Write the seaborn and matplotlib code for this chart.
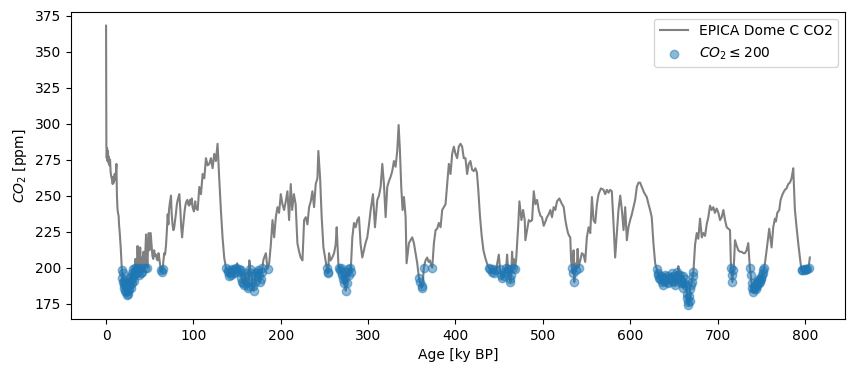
import matplotlib
matplotlib.use("Agg")
import matplotlib.pyplot as plt
import pandas as pd
import seaborn as sns

# EPICA Dome C CO2 record
age_ky = [
    -0.05, 0.3, 0.7, 1.1, 1.6, 2.1, 2.6, 3.2, 3.8, 4.5,
    5.2, 6.0, 6.8, 7.5, 8.2, 9.0, 9.8, 10.5, 11.2, 11.8,
    12.4, 13.0, 13.6, 14.3, 14.9, 15.5, 16.2, 16.8, 17.4, 18.0,
    18.5, 19.0, 19.5, 20.0, 20.5, 21.0, 21.5, 22.0, 22.5, 23.0,
    23.5, 24.0, 24.5, 25.0, 25.5, 26.0, 26.5, 27.0, 27.5, 28.0,
    28.5, 29.0, 29.5, 30.0, 30.5, 31.0, 31.5, 32.0, 32.5, 33.0,
    33.5, 34.0, 34.5, 35.0, 35.5, 36.0, 36.5, 37.0, 37.5, 38.0,
    38.5, 39.0, 39.5, 40.0, 40.5, 41.0, 41.5, 42.0, 42.8, 43.5,
    44.2, 45.0, 45.7, 46.5, 47.3, 48.0, 48.8, 49.5, 50.3, 51.0,
    52, 53, 54, 55, 56, 57, 58, 59, 60, 61,
    62, 63, 64, 64.8, 65.5, 66.5, 67.5, 68.5, 69.5, 70.5,
    71.3, 72, 73, 74.3, 75, 76, 77, 78, 79, 80,
    81, 82, 83.8, 85, 86, 87, 88, 89, 90, 91,
    92, 93, 94, 95, 96, 97, 98, 99, 100.5, 102,
    103, 104.8, 106.7, 108.6, 110.5, 112.4, 114.3, 116.2, 118.1, 120,
    121.9, 123.8, 125.7, 127.6, 129.5, 131.4, 133.3, 135.2, 137.1, 139,
    140, 141, 142, 143, 144, 145, 146, 147, 148, 149,
    150, 151, 152, 153, 154, 155, 156, 157, 158, 159,
    160, 161, 162, 163, 164, 165, 166, 167, 168, 169,
    170, 171, 172, 173, 174, 175, 176, 177, 178, 179,
    180, 181, 182.9, 184.8, 186.7, 188.6, 190.5, 192.4, 194.3, 196.2,
    198, 200, 201.9, 203.8, 205.7, 207.6, 209.5, 211.4, 213, 215,
    217, 219, 221, 222.8, 224.8, 226.7, 228.6, 230.5, 232.4, 234.3,
    236.2, 238.1, 240, 241.9, 243, 245, 246.8, 248.8, 250.7, 252.6,
    253.5, 254.3, 255.2, 257, 259, 261, 262.8, 264, 265.9, 266.7,
    267.5, 268.5, 269.5, 270.5, 271.5, 272.4, 273.3, 274.3, 275.3, 276.2,
    277, 278, 279, 280, 281.9, 283.8, 285.7, 287.6, 289.5, 291.4,
    293.3, 295.2, 297, 299, 301, 302.9, 305.5, 307.8, 310.5, 312.4,
    314.3, 316.2, 318.1, 320, 321.9, 323.8, 325.7, 327.6, 329.5, 331.4,
    333.3, 334.9, 336.4, 337.9, 339.4, 341, 342.9, 344, 346.7, 348.5,
    350.5, 352.4, 354.3, 356.2, 358.1, 359.5, 361.2, 362.2, 363.8, 365.7,
    367.6, 369.2, 370.7, 372.4, 373.4, 375.3, 377.2, 379, 381, 382.9,
    384.8, 386.7, 388.6, 390.5, 392.4, 394.3, 396.2, 398.1, 400, 401.9,
    403.8, 405.7, 407.6, 409.5, 411.4, 413.3, 415.2, 417.1, 419, 420.9,
    422.8, 424.5, 426, 428, 430, 432, 434, 436, 438, 440,
    441.5, 443, 444.5, 446, 447.5, 449.6, 451, 452.5, 453.4, 455,
    456.5, 458, 459.1, 460.2, 461, 462, 462.9, 463.8, 464.8, 465.8,
    466.7, 468, 469.4, 471.7, 473.2, 475.5, 477.4, 479.3, 480, 482,
    483.9, 485.8, 487.7, 489.6, 491.5, 493.4, 495.3, 497.2, 499, 501,
    503, 504.8, 506.7, 508.6, 510.5, 512.4, 514.3, 516.2, 518.9, 520.5,
    522, 523.9, 525.8, 527.3, 528.8, 530.2, 531.4, 532.4, 533.3, 534.3,
    535.2, 536, 537, 538, 539, 539.8, 541, 542.8, 544.7, 546.6,
    548.5, 550.4, 552.4, 554.3, 556.2, 558, 560, 561.9, 563.8, 566.5,
    569.5, 571.4, 573.3, 575.2, 577, 579, 580.9, 582.8, 584.7, 586.6,
    588.6, 590.5, 592.4, 594.3, 596.2, 598, 600, 601.9, 603.8, 605.7,
    607.6, 609.5, 611.4, 613.3, 616, 619, 621, 622.8, 624.7, 626.6,
    628.6, 630.5, 631.5, 632.4, 633.4, 634.3, 635.3, 636.2, 637.1, 638,
    639, 640, 641, 642, 643, 643.8, 644.8, 645.7, 646.7, 647.6,
    648.6, 649.5, 650.5, 651.4, 652.3, 653.3, 654.2, 655.2, 656.1, 657,
    658, 659, 660, 661, 662, 662.9, 663.8, 664.8, 665.4, 666,
    666.7, 667.4, 668, 668.6, 669.5, 670.5, 671.5, 672.4, 674.3, 676.2,
    678, 680, 682, 683.8, 685.7, 687.6, 689.5, 691.4, 693.3, 695.2,
    697, 699, 701, 702.9, 704.8, 706.7, 708.6, 710.5, 712.4, 714.3,
    715.4, 716.2, 717, 718, 719, 720, 722, 723.8, 725.7, 727.6,
    729.5, 731.4, 733.3, 735.2, 737, 738, 739, 739.8, 740.5, 741.2,
    742, 742.7, 743.5, 744.2, 745, 745.7, 746.5, 747.2, 748, 748.8,
    749.5, 750.3, 751, 751.8, 752.5, 753.3, 754.3, 756.2, 759.2, 761.9,
    763.8, 765.7, 766.9, 768.4, 770.7, 772.2, 774.5, 777.1, 779, 781,
    782.9, 784.8, 786.7, 788.6, 790.5, 792.4, 794.3, 796.2, 797.2, 798.5,
    800, 801.5, 803, 804.3, 805.7,
]

co2_ppm = [
    368, 285, 276, 283, 274, 281, 273, 277, 271, 275,
    266, 263, 261, 258, 263, 259, 265, 261, 266, 272,
    250, 241, 238, 236, 229, 225, 219, 213, 206, 198,
    193, 190, 196, 188, 191, 186, 189, 184, 187, 183,
    186, 181, 184, 182, 187, 185, 190, 188, 193, 186,
    191, 194, 189, 196, 193, 199, 191, 195, 200, 197,
    206, 198, 203, 196, 200, 215, 204, 199, 208, 195,
    202, 214, 205, 196, 200, 207, 197, 203, 211, 205,
    200, 212, 223, 210, 200, 215, 224, 212, 218, 224,
    216, 208, 206, 212, 208, 209, 206, 205, 210, 206,
    201, 198, 197, 199, 204, 210, 209, 215, 225, 237,
    230, 240, 245, 250, 238, 230, 226, 228, 233, 238,
    244, 247, 251, 240, 228, 221, 228, 234, 240, 244,
    246, 247, 244, 243, 247, 244, 248, 242, 239, 246,
    241, 240, 256, 251, 265, 262, 276, 271, 272, 276,
    269, 279, 274, 286, 262, 240, 221, 207, 200, 198,
    197, 194, 196, 195, 199, 198, 196, 197, 199, 200,
    203, 201, 199, 197, 198, 193, 190, 189, 188, 194,
    196, 190, 186, 187, 205, 199, 196, 190, 187, 184,
    190, 194, 196, 197, 198, 195, 190, 192, 197, 200,
    205, 207, 210, 199, 203, 216, 233, 221, 235, 242,
    238, 251, 244, 240, 246, 253, 233, 258, 240, 251,
    244, 217, 211, 207, 205, 233, 235, 230, 242, 246,
    253, 242, 258, 262, 281, 262, 235, 214, 207, 200,
    196, 197, 210, 205, 207, 210, 216, 228, 203, 200,
    198, 200, 196, 195, 192, 189, 193, 184, 189, 197,
    199, 195, 200, 197, 221, 231, 228, 233, 235, 216,
    207, 212, 217, 221, 230, 240, 251, 228, 247, 250,
    256, 272, 258, 235, 256, 260, 263, 267, 274, 270,
    281, 299, 281, 256, 240, 249, 235, 203, 217, 219,
    221, 217, 210, 203, 193, 190, 186, 187, 200, 205,
    207, 204, 205, 201, 200, 217, 226, 227, 231, 228,
    240, 242, 244, 258, 272, 265, 279, 284, 279, 276,
    284, 286, 284, 276, 276, 265, 272, 274, 268, 267,
    269, 266, 255, 236, 222, 212, 207, 203, 200, 199,
    197, 199, 196, 198, 202, 209, 199, 195, 193, 194,
    197, 200, 209, 199, 198, 192, 190, 195, 211, 200,
    206, 199, 205, 228, 246, 233, 240, 233, 219, 226,
    233, 232, 233, 253, 244, 247, 240, 236, 235, 229,
    232, 235, 237, 240, 235, 242, 240, 246, 248, 246,
    244, 242, 233, 228, 224, 222, 221, 205, 200, 196,
    212, 190, 203, 198, 201, 213, 200, 205, 210, 209,
    204, 221, 228, 224, 249, 233, 231, 244, 251, 255,
    254, 251, 254, 252, 254, 253, 231, 207, 224, 240,
    250, 240, 226, 242, 219, 228, 233, 237, 242, 247,
    256, 259, 259, 256, 252, 249, 244, 240, 235, 217,
    203, 199, 196, 195, 193, 192, 194, 190, 193, 188,
    191, 195, 193, 194, 189, 190, 192, 192, 193, 196,
    191, 194, 190, 188, 193, 197, 195, 201, 193, 195,
    189, 190, 194, 186, 189, 192, 187, 182, 179, 176,
    174, 180, 177, 185, 188, 190, 194, 197, 216, 224,
    220, 234, 221, 224, 222, 230, 235, 243, 240, 242,
    238, 241, 238, 233, 235, 240, 233, 228, 227, 226,
    200, 195, 190, 198, 205, 219, 215, 212, 211, 211,
    210, 210, 212, 217, 200, 195, 189, 186, 183, 185,
    186, 188, 185, 187, 190, 187, 191, 189, 192, 190,
    193, 192, 195, 196, 198, 200, 203, 212, 227, 214,
    228, 234, 232, 238, 240, 247, 251, 254, 255, 258,
    259, 262, 269, 240, 228, 217, 207, 198, 198, 199,
    198, 199, 199, 200, 207,
]

threshold = 200

df = pd.DataFrame({"age": age_ky, "co2": co2_ppm})
low = df[df["co2"] <= threshold]

fig, ax = plt.subplots(figsize=(8.54, 3.72), dpi=100)
fig.subplots_adjust(left=0.083, right=0.9895, top=0.9685, bottom=0.1425)

sns.lineplot(data=df, x="age", y="co2", color="grey", sort=False,
             estimator=None, ax=ax, label="EPICA Dome C CO2")
# glacial values drawn on top of the record
sns.scatterplot(data=low, x="age", y="co2", color="C0", alpha=0.5, s=36,
                edgecolor="C0", linewidth=1, zorder=3, ax=ax,
                label=r"$CO_2 \leq 200$")

ax.set_xlabel("Age [ky BP]")
ax.set_ylabel("$CO_2$ [ppm]")
ax.legend(loc="upper right")

fig.savefig("out.png", dpi=100)
